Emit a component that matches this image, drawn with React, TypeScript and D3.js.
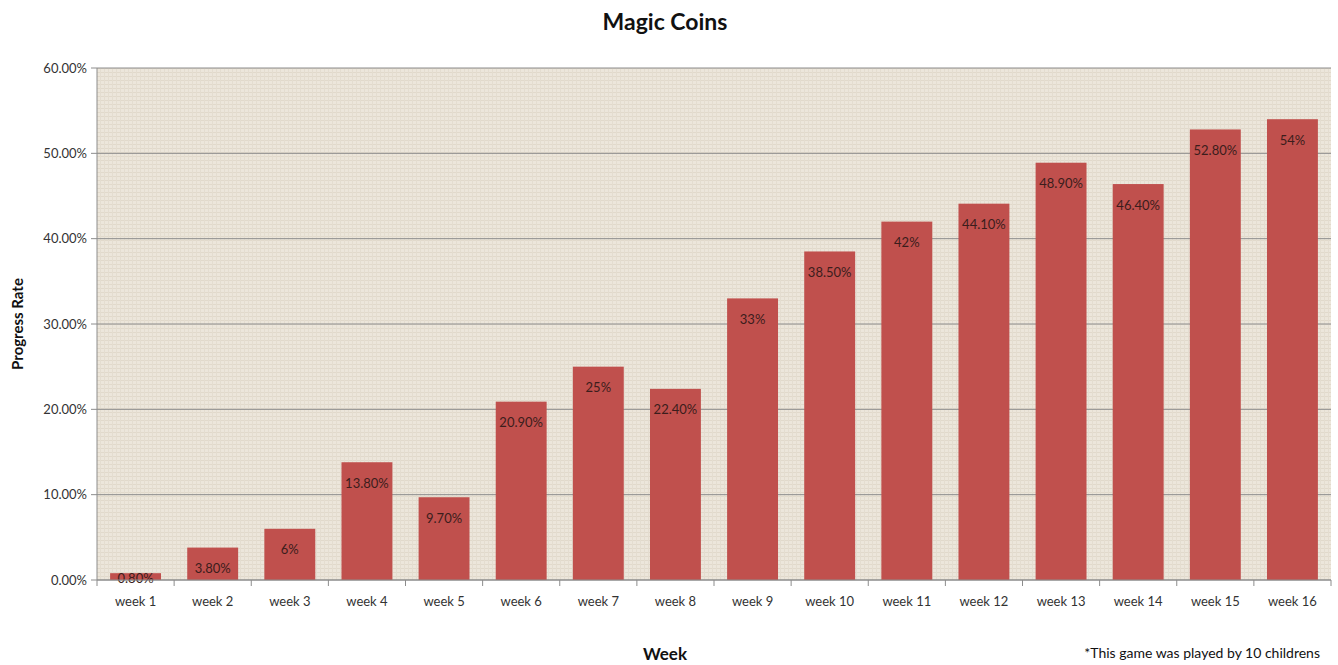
import React from "react";
import * as d3 from "d3";

const categories = ["week 1","week 2","week 3","week 4","week 5","week 6","week 7","week 8","week 9","week 10","week 11","week 12","week 13","week 14","week 15","week 16"];
const values = [0.8, 3.8, 6, 13.8, 9.7, 20.9, 25, 22.4, 33, 38.5, 42, 44.1, 48.9, 46.4, 52.8, 54];
const valueLabels = ["0.80%","3.80%","6%","13.80%","9.70%","20.90%","25%","22.40%","33%","38.50%","42%","44.10%","48.90%","46.40%","52.80%","54%"];
const yTicks = [0, 10, 20, 30, 40, 50, 60];

const W = 1338, H = 665;
const M = { left: 97, right: 1331, top: 68, bottom: 580 };
const FONT = "Lato, 'Open Sans', sans-serif";

export default function App() {
  const x = d3.scaleBand<string>().domain(categories).range([M.left, M.right]).paddingInner(0.34).paddingOuter(0.17);
  const xb = d3.scaleBand<string>().domain(categories).range([M.left, M.right]);
  const y = d3.scaleLinear().domain([0, 60]).range([M.bottom, M.top]);
  return (
    <svg width={W} height={H} style={{ position: "absolute", left: 0, top: 0, background: "#fff" }}>
      <defs>
        <pattern id="tex" width="4" height="4" patternUnits="userSpaceOnUse">
          <rect width="4" height="4" fill="#ece6db" />
          <rect x="0" y="0" width="4" height="1" fill="#e1d9cb" />
          <rect x="0" y="0" width="1" height="4" fill="#e4ddd0" />
        </pattern>
      </defs>
      <text x={665} y={30} textAnchor="middle" fontFamily={FONT} fontWeight="bold" fontSize={23} fill="#111">Magic Coins</text>
      <rect x={M.left} y={M.top} width={M.right - M.left} height={M.bottom - M.top} fill="url(#tex)" />
      {yTicks.map(t => (
        <g key={t}>
          <line x1={M.left - 6} x2={M.right} y1={y(t)} y2={y(t)} stroke="#8c8c8c" strokeWidth={1} />
          <text x={M.left - 10} y={y(t)} dy="0.35em" textAnchor="end" fontFamily={FONT} fontSize={13} fill="#333">{t.toFixed(2)}%</text>
        </g>
      ))}
      <line x1={M.left} x2={M.left} y1={M.top} y2={M.bottom} stroke="#8c8c8c" />
      {categories.map((c, i) => (
        <g key={c}>
          <rect x={x(c)} y={y(values[i])} width={x.bandwidth()} height={M.bottom - y(values[i])} fill="#c0504d" />
          <text x={(x(c) as number) + x.bandwidth() / 2} y={Math.min(y(values[i]) + 21, M.bottom - 2)} dy="0.35em" textAnchor="middle" fontFamily={FONT} fontSize={13} fill="#3b1d1c">{valueLabels[i]}</text>
          <line x1={(xb(c) as number) + xb.bandwidth()} x2={(xb(c) as number) + xb.bandwidth()} y1={M.bottom} y2={M.bottom + 6} stroke="#8c8c8c" />
          <text x={(xb(c) as number) + xb.bandwidth() / 2} y={606} textAnchor="middle" fontFamily={FONT} fontSize={13} fill="#333">{c}</text>
        </g>
      ))}
      <line x1={M.left} x2={M.left} y1={M.bottom} y2={M.bottom + 6} stroke="#8c8c8c" />
      <line x1={M.left} x2={M.right} y1={M.bottom} y2={M.bottom} stroke="#8c8c8c" />
      <text transform={`translate(23, ${(M.top + M.bottom) / 2}) rotate(-90)`} textAnchor="middle" fontFamily={FONT} fontWeight="bold" fontSize={15} fill="#111">Progress Rate</text>
      <text x={665} y={660} textAnchor="middle" fontFamily={FONT} fontWeight="bold" fontSize={17} fill="#111">Week</text>
      <text x={1320} y={658} textAnchor="end" fontFamily={FONT} fontSize={14} fill="#111">*This game was played by 10 childrens</text>
    </svg>
  );
}
